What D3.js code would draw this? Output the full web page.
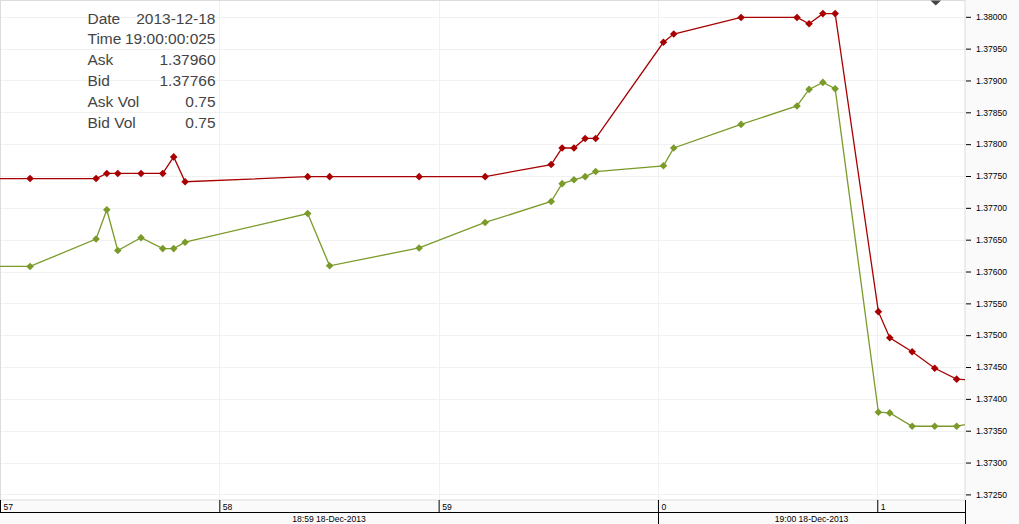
<!DOCTYPE html>
<html><head><meta charset="utf-8">
<script src="https://cdn.jsdelivr.net/npm/d3@7"></script>
<style>body{margin:0;background:#fff}svg{display:block}</style>
</head><body><svg id="c" width="1019" height="524"></svg>
<script>
// ---- data ----
const times = ["18:59:56.900","18:59:57.137","18:59:57.438","18:59:57.487","18:59:57.537","18:59:57.643","18:59:57.742","18:59:57.792","18:59:57.844","18:59:58.403","18:59:58.503","18:59:58.911","18:59:59.212","18:59:59.513","18:59:59.563","18:59:59.617","18:59:59.668","18:59:59.716","19:00:00.025","19:00:00.072","19:00:00.379","19:00:00.634","19:00:00.689","19:00:00.752","19:00:00.808","19:00:01.005","19:00:01.057","19:00:01.159","19:00:01.262","19:00:01.362","19:00:01.450"];
const askValues = [1.37746,1.37746,1.37746,1.37754,1.37754,1.37754,1.37754,1.37780,1.37741,1.37749,1.37749,1.37749,1.37749,1.37768,1.37794,1.37794,1.37809,1.37809,1.37960,1.37973,1.37999,1.37999,1.37989,1.38005,1.38005,1.37537,1.37496,1.37474,1.37448,1.37431,1.37429];
const bidValues = [1.37608,1.37608,1.37651,1.37697,1.37633,1.37653,1.37636,1.37636,1.37646,1.37691,1.37609,1.37637,1.37677,1.37710,1.37738,1.37744,1.37749,1.37757,1.37766,1.37794,1.37831,1.37860,1.37886,1.37897,1.37887,1.37379,1.37378,1.37357,1.37357,1.37357,1.37363];
const yTickValues = [1.37250,1.37300,1.37350,1.37400,1.37450,1.37500,1.37550,1.37600,1.37650,1.37700,1.37750,1.37800,1.37850,1.37900,1.37950,1.38000];
const secondTicks = ["18:59:57","18:59:58","18:59:59","19:00:00","19:00:01"];
const minuteStarts = ["18:59:00","19:00:00"];
const minuteLabels = ["18:59 18-Dec-2013","19:00 18-Dec-2013"];
const infoLabels = ["Date","Time","Ask","Bid","Ask Vol","Bid Vol"];
const infoValues = ["2013-12-18","19:00:00:025","1.37960","1.37766","0.75","0.75"];

// ---- setup ----
const W = 1019, H = 524, PW = 965, PH = 500;
const parseMs = d3.timeParse("%Y-%m-%d %H:%M:%S.%L");
const parseS = d3.timeParse("%Y-%m-%d %H:%M:%S");
const day = "2013-12-18 ";
const tDates = times.map(t => parseMs(day + t));
const ask = tDates.map((d, i) => ({t: d, v: askValues[i]}));
const bid = tDates.map((d, i) => ({t: d, v: bidValues[i]}));

const x = d3.scaleTime()
  .domain([parseMs(day + "18:59:57.000"), parseMs(day + "19:00:01.400")])
  .range([0, PW]);
const y = d3.scaleLinear().domain([1.3725, 1.38]).range([494.4, 16.8]);

const svg = d3.select("#c");
svg.append("rect").attr("width", W).attr("height", H).attr("fill", "#fafafa");
svg.append("rect").attr("width", PW).attr("height", PH).attr("fill", "#fff");

svg.append("defs").append("clipPath").attr("id", "clip")
  .append("rect").attr("x", 0).attr("y", 0).attr("width", PW).attr("height", PH);

// grid
const grid = svg.append("g");
grid.selectAll(".hg").data(yTickValues).join("line")
  .attr("x1", 0).attr("x2", PW)
  .attr("y1", d => Math.round(y(d)) + 0.5).attr("y2", d => Math.round(y(d)) + 0.5)
  .attr("stroke", "#f1f1f1");
const secDates = secondTicks.map(s => parseS(day + s));
grid.selectAll(".vg").data(secDates).join("line")
  .attr("x1", d => Math.round(x(d)) + 0.5).attr("x2", d => Math.round(x(d)) + 0.5)
  .attr("y1", 0).attr("y2", PH)
  .attr("stroke", "#f1f1f1");

// plot border
svg.append("rect").attr("x", 0.5).attr("y", 0.5).attr("width", PW - 0.5).attr("height", PH - 0.5)
  .attr("fill", "none").attr("stroke", "#dcdcdc");

// series
const line = d3.line().x(d => x(d.t)).y(d => y(d.v));
const diamond = "M0,-3.8L3.8,0L0,3.8L-3.8,0Z";
const plot = svg.append("g").attr("clip-path", "url(#clip)");
[[bid, "#7a9a2a"], [ask, "#a80000"]].forEach(([data, col]) => {
  plot.append("path").datum(data).attr("d", line)
    .attr("fill", "none").attr("stroke", col).attr("stroke-width", 1.3);
  plot.selectAll(null).data(data).join("path")
    .attr("d", diamond)
    .attr("transform", d => `translate(${x(d.t)},${y(d.v)})`)
    .attr("fill", col);
});

// right axis
const yAxis = d3.axisRight(y).tickValues(yTickValues).tickFormat(d3.format(".5f"))
  .tickSize(5).tickPadding(5);
const ya = svg.append("g").attr("transform", `translate(966,0)`).call(yAxis);
ya.select(".domain").remove();
ya.selectAll("line").attr("stroke", "#000");
ya.selectAll("text").attr("font-family", "Liberation Sans, Arial, sans-serif")
  .attr("font-size", "8.6px").attr("fill", "#000");

// bottom axis row 1 (seconds)
const xAxis = d3.axisBottom(x).tickValues(secDates).tickFormat(d3.timeFormat("%-S")).tickSize(12).tickPadding(0);
const xa = svg.append("g").attr("transform", `translate(0,${PH})`).call(xAxis);
xa.select(".domain").remove();
xa.selectAll(".tick line").attr("stroke", "#000");
xa.selectAll(".tick text").attr("text-anchor", "start").attr("x", 3).attr("y", 9.5).attr("dy", null)
  .attr("font-family", "Liberation Sans, Arial, sans-serif").attr("font-size", "8.6px").attr("fill", "#000");

// row separators
svg.append("line").attr("x1", 0).attr("x2", PW + 1).attr("y1", 512.5).attr("y2", 512.5).attr("stroke", "#000");
svg.append("line").attr("x1", PW + 0.5).attr("x2", PW + 0.5).attr("y1", PH).attr("y2", H).attr("stroke", "#000");

// bottom axis row 2 (minutes)
const minDates = minuteStarts.map(s => parseS(day + s));
const bands = minDates.map((d, i) => {
  const a = Math.max(0, x(d));
  const b = Math.min(PW, x(d3.timeMinute.offset(d, 1)));
  return {a, b, label: minuteLabels[i]};
});
svg.selectAll(".msep").data(bands.filter(b => b.a > 0)).join("line")
  .attr("x1", d => Math.round(d.a) + 0.5).attr("x2", d => Math.round(d.a) + 0.5)
  .attr("y1", 512).attr("y2", H).attr("stroke", "#000");
svg.selectAll(".mlab").data(bands).join("text")
  .attr("x", d => (d.a + d.b) / 2).attr("y", 521.5)
  .attr("text-anchor", "middle")
  .attr("font-family", "Liberation Sans, Arial, sans-serif").attr("font-size", "8.6px").attr("fill", "#000")
  .text(d => d.label);

// info box
const info = svg.append("g").attr("font-family", "Liberation Sans, Arial, sans-serif")
  .attr("font-size", "15.5px").attr("fill", "#444");
info.selectAll(".il").data(infoLabels).join("text")
  .attr("x", 87.5).attr("y", (d, i) => 23.5 + i * 20.9).text(d => d);
info.selectAll(".iv").data(infoValues).join("text")
  .attr("x", 215.5).attr("y", (d, i) => 23.5 + i * 20.9).attr("text-anchor", "end")
  .text(d => d);

// dropdown marker
svg.append("path").attr("d", "M930.5,0.5L941,0.5L935.75,5.5Z").attr("fill", "#444");
</script></body></html>
